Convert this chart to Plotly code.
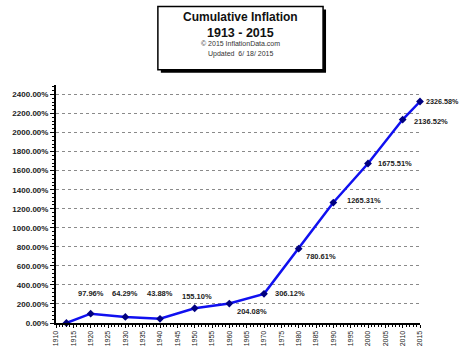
import plotly.graph_objects as go

years = [1913, 1920, 1930, 1940, 1950, 1960, 1970, 1980, 1990, 2000, 2010, 2015]
values = [0.0, 97.96, 64.29, 43.88, 155.10, 204.08, 306.12, 780.61, 1265.31, 1675.51, 2136.52, 2326.58]
label_text = ["", "97.96%", "64.29%", "43.88%", "155.10%", "204.08%", "306.12%",
              "780.61%", "1265.31%", "1675.51%", "2136.52%", "2326.58%"]
y_ticks = list(range(0, 2401, 200))
y_tick_labels = [f"{v:.2f}%" for v in y_ticks]
x_ticks = list(range(1910, 2016, 5))

# label placement styles (anchor, xshift, yshift, size)
label_style = [None,
               ("center", 0, 20, 7.5), ("center", 0, 23, 7.5), ("center", 0, 25, 7.5),
               ("center", 2, 12, 7.5), ("left", 6, -8, 7.5), ("left", 9, 0, 7.5),
               ("left", 5, -8, 7.5), ("left", 12, 2, 7.5), ("left", 8, 0, 7.5),
               ("left", 9, -2, 7.5), ("left", 4, 0, 7.2)]

FONT = "Liberation Sans, Arial, sans-serif"

fig = go.Figure()
fig.add_trace(go.Scatter(
    x=years, y=values, mode="lines+markers",
    line=dict(color="#1010f0", width=2.5),
    marker=dict(symbol="diamond", size=6, color="#000080"),
    cliponaxis=False, showlegend=False, hoverinfo="skip"))

annotations = []
for yr, v, t, st in zip(years, values, label_text, label_style):
    if not t:
        continue
    anchor, xs, ys, fs = st
    annotations.append(dict(x=yr, y=v, xref="x", yref="y", text=t, showarrow=False,
                            xanchor=anchor, yanchor="middle", xshift=xs, yshift=ys,
                            font=dict(family=FONT, size=fs, color="#222", weight="bold")))

# title box texts
cx = (238.5 - 52) / 368
def py(p):
    return (329.3 - p) / 244.6
annotations += [
    dict(x=cx, y=py(15), xref="paper", yref="paper", text="Cumulative Inflation", showarrow=False,
         xanchor="center", yanchor="middle", font=dict(family=FONT, size=12, color="#111", weight="bold")),
    dict(x=cx, y=py(31), xref="paper", yref="paper", text="1913 - 2015", showarrow=False,
         xanchor="center", yanchor="middle", font=dict(family=FONT, size=12.5, color="#111", weight="bold")),
    dict(x=cx, y=py(42.5), xref="paper", yref="paper", text="© 2015 InflationData.com", showarrow=False,
         xanchor="center", yanchor="middle", font=dict(family=FONT, size=7, color="#333")),
    dict(x=cx, y=py(52.5), xref="paper", yref="paper", text="Updated  6/ 18/ 2015", showarrow=False,
         xanchor="center", yanchor="middle", font=dict(family=FONT, size=7, color="#333")),
]

def px(p):
    return (p - 52) / 368

shapes = [
    dict(type="rect", xref="paper", yref="paper", x0=px(158), x1=px(325), y0=py(72), y1=py(7),
         fillcolor="black", line=dict(width=0), layer="below"),
    dict(type="rect", xref="paper", yref="paper", x0=px(155), x1=px(322), y0=py(69), y1=py(4),
         fillcolor="white", line=dict(color="black", width=1.5), layer="below"),
]

fig.update_layout(
    width=460, height=358,
    margin=dict(l=52, r=40, t=85, b=29),
    paper_bgcolor="white", plot_bgcolor="white",
    annotations=annotations, shapes=shapes,
    xaxis=dict(range=[1910, 2015], tickmode="array", tickvals=x_ticks,
               ticktext=[str(v) for v in x_ticks], tickangle=-90,
               tickfont=dict(family=FONT, size=7, color="#222"),
               showgrid=False, zeroline=False, showline=True, linecolor="black", linewidth=2,
               ticks="outside", ticklen=3, tickcolor="black", tickwidth=1,
               minor=dict(dtick=1, ticks="outside", ticklen=2, tickcolor="black", showgrid=False)),
    yaxis=dict(range=[0, 2500], tickmode="array", tickvals=y_ticks, ticktext=y_tick_labels,
               tickfont=dict(family=FONT, size=8, color="#222", weight="bold"),
               showgrid=True, gridcolor="#8a8a8a", griddash="dot", gridwidth=1,
               zeroline=False, showline=True, linecolor="black", linewidth=2,
               ticks="outside", ticklen=4, tickcolor="black", tickwidth=1,
               minor=dict(tickvals=list(range(0, 2501, 40)), ticks="outside", ticklen=2,
                          tickcolor="black", showgrid=False)),
)

fig.write_html("out.html")
